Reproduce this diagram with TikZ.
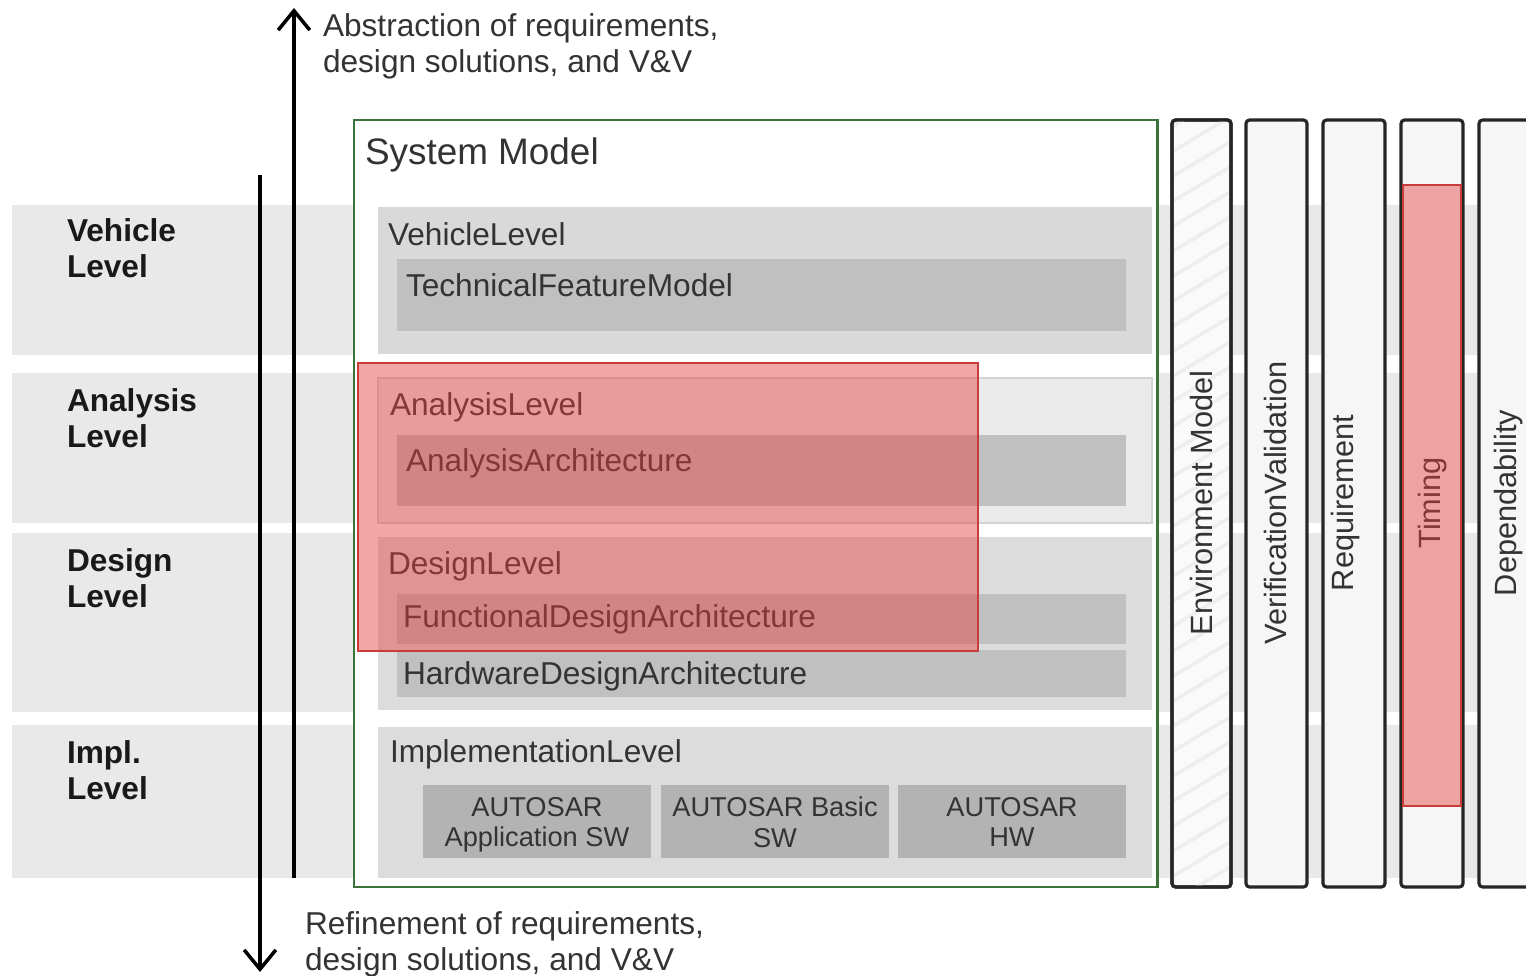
\documentclass[tikz,border=0pt]{standalone}
\usepackage{fontspec}
\setmainfont{Liberation Sans}
\usetikzlibrary{arrows.meta}
\definecolor{rowbg}{HTML}{E9E9E9}
\definecolor{vehbg}{HTML}{D9D9D9}
\definecolor{anabg}{HTML}{EAEAEA}
\definecolor{anabd}{HTML}{D2D2D2}
\definecolor{desbg}{HTML}{DCDCDC}
\definecolor{archbg}{HTML}{C0C0C0}
\definecolor{autobg}{HTML}{B3B3B3}
\definecolor{colbg}{HTML}{F6F6F6}
\definecolor{smgreen}{HTML}{3A733A}
\definecolor{txt}{HTML}{333333}
\definecolor{redfill}{HTML}{E64040}
\definecolor{redline}{HTML}{C83C3C}
\definecolor{hatch}{HTML}{EEEEEE}
\begin{document}
\begin{tikzpicture}[x=0.02cm,y=-0.02cm,
  every node/.style={inner sep=0pt, outer sep=0pt, text=txt},
  boldlabel/.style={font=\fontsize{18}{20.5}\selectfont\bfseries, text=black!90, align=left, anchor=north west},
  titletext/.style={font=\fontsize{21}{24}\selectfont, anchor=base west},
  boxtext/.style={font=\fontsize{18}{20.5}\selectfont, anchor=base west},
  autotext/.style={font=\fontsize{15.5}{17.5}\selectfont, align=center, anchor=north},
  coltext/.style={font=\fontsize{17.5}{20}\selectfont, rotate=90},
  arrowtext/.style={font=\fontsize{18}{20.5}\selectfont, align=left, anchor=north west},
  bigarrow/.style={line width=2pt, -{Straight Barb[length=11pt,width=18pt,line width=2pt]}},
  colbox/.style={draw=black!85, line width=1.8pt, rounded corners=2pt, fill=colbg},
  redbox/.style={draw=redline, line width=1pt, fill=redfill, fill opacity=0.45}
]
\useasboundingbox (0,0) rectangle (1526,976);
\clip (0,0) rectangle (1526,976);
\fill[white] (0,0) rectangle (1526,976);

% level row bands
\fill[rowbg] (12,205) rectangle (1526,355);
\fill[rowbg] (12,373) rectangle (1526,523);
\fill[rowbg] (12,533) rectangle (1526,712);
\fill[rowbg] (12,725) rectangle (1526,878);

% left level labels
\node[boldlabel] (lv) at (67,219) {Vehicle\\Level};
\node[boldlabel] (la) at (67,389) {Analysis\\Level};
\node[boldlabel] (ld) at (67,549) {Design\\Level};
\node[boldlabel] (li) at (67,741) {Impl.\\Level};

% arrows
\coordinate (upstart) at (294,878);
\coordinate (upend) at (294,8);
\coordinate (downstart) at (260,175);
\coordinate (downend) at (260,972);
\draw[bigarrow] (upstart) -- (upend);
\draw[bigarrow] (downstart) -- (downend);
\node[arrowtext] (abs) at (323,14) {Abstraction of requirements,\\design solutions, and V\&V};
\node[arrowtext] (ref) at (305,912) {Refinement of requirements,\\design solutions, and V\&V};

% system model
\draw[smgreen, line width=1.7pt, fill=white] (354,120) rectangle (1157,887);
\node[titletext] (sm) at (365,165) {System Model};

% vehicle level
\fill[vehbg] (378,207) rectangle (1152,354);
\node[boxtext] (vl) at (388,246) {VehicleLevel};
\fill[archbg] (397,259) rectangle (1126,331);
\node[boxtext] (tfm) at (406,297) {TechnicalFeatureModel};

% analysis level
\draw[anabd, fill=anabg, line width=0.8pt] (378,378) rectangle (1152,523);
\node[boxtext] (al) at (390,416) {AnalysisLevel};
\fill[archbg] (397,435) rectangle (1126,506);
\node[boxtext] (aa) at (406,472) {AnalysisArchitecture};

% design level
\fill[desbg] (378,537) rectangle (1152,710);
\node[boxtext] (dl) at (388,575) {DesignLevel};
\fill[archbg] (397,594) rectangle (1126,644);
\node[boxtext] (fda) at (403,627) {FunctionalDesignArchitecture};
\fill[archbg] (397,650) rectangle (1126,697);
\node[boxtext] (hda) at (403,684) {HardwareDesignArchitecture};

% implementation level
\fill[desbg] (378,727) rectangle (1152,878);
\node[boxtext] (il) at (390,762) {ImplementationLevel};
\fill[autobg] (423,785) rectangle (651,858);
\fill[autobg] (661,785) rectangle (889,858);
\fill[autobg] (898,785) rectangle (1126,858);
\node[autotext] (aas) at (537,797) {AUTOSAR\\Application SW};
\node[autotext] (abs2) at (775,797) {AUTOSAR Basic\\SW};
\node[autotext] (ahw) at (1012,797) {AUTOSAR\\HW};

% right columns
\draw[colbox, fill=white!50!colbg] (1172,120) rectangle (1231,887);
\begin{scope}
  \clip (1174,122) rectangle (1229,885);
  \foreach \k in {0,...,32} {
    \draw[hatch, line width=2pt] (1150,{140+25*\k}) -- (1250,{80+25*\k});
  }
\end{scope}
\draw[black!85, line width=1.8pt, rounded corners=2pt] (1172,120) rectangle (1231,887);
\draw[colbox] (1246,120) rectangle (1307,887);
\draw[colbox] (1323,120) rectangle (1385,887);
\draw[colbox] (1401,120) rectangle (1463,887);
\draw[colbox] (1479,120) rectangle (1545,887);
\node[coltext] (env) at (1202,503) {Environment Model};
\node[coltext] (vv) at (1276,503) {VerificationValidation};
\node[coltext] (req) at (1346,503) {Requirement};
\node[coltext] (tim) at (1433,503) {Timing};
\node[coltext] (dep) at (1509,503) {Dependability};

% red highlight overlays
\draw[redbox] (358,363) rectangle (978,651);
\draw[redbox] (1403,185) rectangle (1461,806);
\end{tikzpicture}
\end{document}
